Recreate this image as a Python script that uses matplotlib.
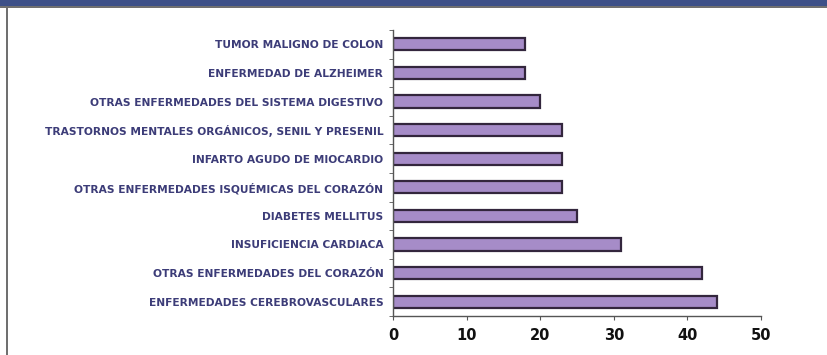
import matplotlib.pyplot as plt
from matplotlib.patches import Rectangle

# Data (top to bottom as shown)
causas = [
    'TUMOR MALIGNO DE COLON',
    'ENFERMEDAD DE ALZHEIMER',
    'OTRAS ENFERMEDADES DEL SISTEMA DIGESTIVO',
    'TRASTORNOS MENTALES ORGÁNICOS, SENIL Y PRESENIL',
    'INFARTO AGUDO DE MIOCARDIO',
    'OTRAS ENFERMEDADES ISQUÉMICAS DEL CORAZÓN',
    'DIABETES MELLITUS',
    'INSUFICIENCIA CARDIACA',
    'OTRAS ENFERMEDADES DEL CORAZÓN',
    'ENFERMEDADES CEREBROVASCULARES',
]
valores = [18, 18, 20, 23, 23, 23, 25, 31, 42, 44]
xticks = [0, 10, 20, 30, 40, 50]

fig = plt.figure(figsize=(8.27, 3.55), dpi=100)
fig.patch.set_facecolor('white')

# header band and left frame line
fig.patches.append(Rectangle((0, 1 - 6 / 355), 1, 6 / 355, transform=fig.transFigure,
                             facecolor='#3d5088', edgecolor='none'))
fig.patches.append(Rectangle((0, 1 - 8 / 355), 1, 2 / 355, transform=fig.transFigure,
                             facecolor='#707070', edgecolor='none'))
fig.patches.append(Rectangle((6 / 827, 0), 2 / 827, 1 - 8 / 355, transform=fig.transFigure,
                             facecolor='#707070', edgecolor='none'))

ax = fig.add_axes([393 / 827, 1 - 316 / 355, 368 / 827, 286 / 355])
pos = list(range(len(causas)))[::-1]
ax.barh(pos, valores, height=0.42, color='#a68cc8', edgecolor='#33263d', linewidth=1.6)

ax.set_xlim(0, 50)
ax.set_ylim(-0.5, len(causas) - 0.5)
ax.set_xticks(xticks)
ax.set_xticklabels([str(t) for t in xticks], fontsize=10.5, fontweight='bold', color='#111111')
ax.set_yticks(pos)
ax.set_yticklabels(causas, fontsize=7.7, fontweight='bold', color='#3c3c78')
ax.set_yticks([p + 0.5 for p in range(-1, len(causas))], minor=True)
ax.tick_params(axis='y', which='major', length=0, pad=7)
ax.tick_params(axis='y', which='minor', length=3, color='#555555', direction='out')
ax.tick_params(axis='x', length=3, color='#555555', direction='out', pad=6)

for s in ['top', 'right']:
    ax.spines[s].set_visible(False)
for s in ['left', 'bottom']:
    ax.spines[s].set_color('#555555')
    ax.spines[s].set_linewidth(1.0)

fig.savefig('out.png', dpi=100)
